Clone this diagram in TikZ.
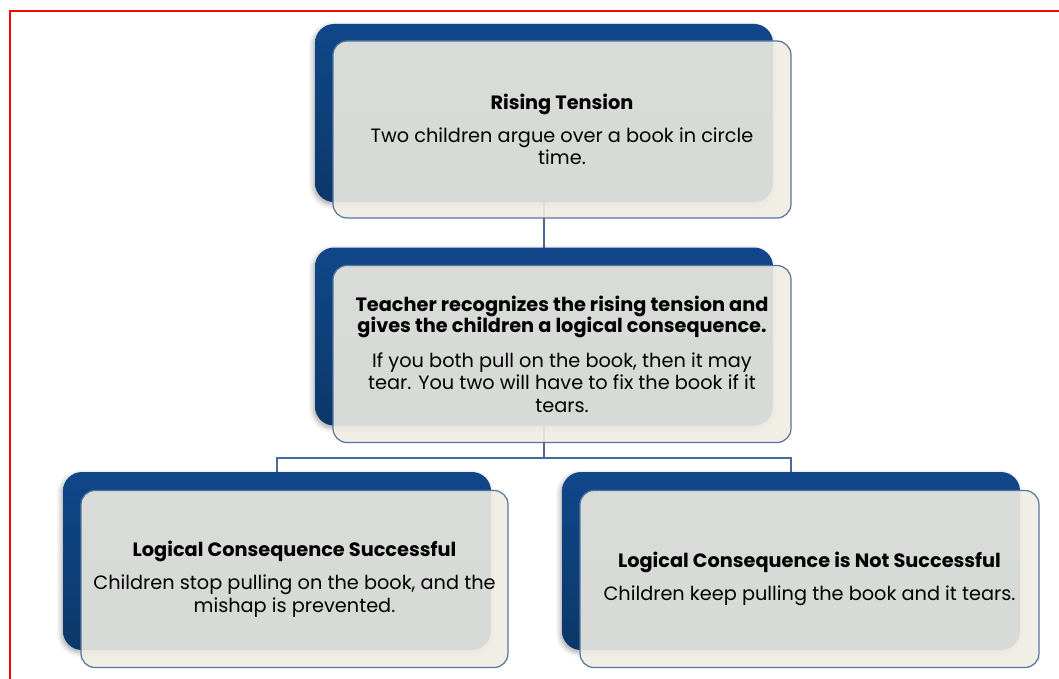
\documentclass[tikz,border=0pt]{standalone}
\usepackage{fontspec}
\setmainfont{Poppins}
\usetikzlibrary{shadows.blur}
\definecolor{bluetop}{HTML}{10478A}
\definecolor{bluebot}{HTML}{0B3868}
\definecolor{cream}{HTML}{EEECE2}
\definecolor{edgeblue}{HTML}{5373A0}
\definecolor{linkblue}{HTML}{4A6A98}
\definecolor{framered}{rgb}{1,0,0}
\pgfdeclarelayer{bg}
\pgfsetlayers{bg,main}
\tikzset{
  backbox/.style={rectangle, rounded corners=19pt, top color=bluetop, bottom color=bluebot,
    draw=none, minimum height=178pt, inner sep=0pt,
    blur shadow={shadow xshift=-1.5pt, shadow yshift=-2.5pt, shadow blur radius=5pt, shadow opacity=35}},
  frontbox/.style={rectangle, rounded corners=14pt, fill=cream, fill opacity=0.9, text opacity=1,
    draw=edgeblue, draw opacity=1, line width=1.2pt, minimum height=177pt, inner sep=0pt,
    align=center, text=black, font=\fontsize{19.3}{22.5}\selectfont},
  link/.style={draw=linkblue, line width=1.2pt},
  redframe/.style={draw=framered, line width=2pt},
}
\begin{document}
\begin{tikzpicture}[x=1pt,y=-1pt]
\useasboundingbox (0,0) rectangle (1059,679);
\coordinate (rTL) at (9.5,11.5);
\coordinate (rTR) at (1059,11.5);
\coordinate (rBL) at (9.5,679);

\node[backbox, minimum width=458pt] (d1) at (544,113) {};
\node[frontbox, minimum width=458pt] (f1) at (562,129.5)
  {\textbf{Rising Tension}\\[10.5pt]
   Two children argue over a book in circle\\
   time.};

\node[backbox, minimum width=458pt] (d2) at (544,336.5) {};
\node[frontbox, minimum width=458pt] (f2) at (562,354)
  {\textbf{Teacher recognizes the rising tension and}\\[-1.5pt]
   \textbf{gives the children a logical consequence.}\\[12.5pt]
   If you both pull on the book, then it may\\
   tear. You two will have to fix the book if it\\
   tears.};

\node[backbox, minimum width=428pt] (d3) at (277,561) {};
\node[frontbox, minimum width=427pt] (f3) at (294.5,579)
  {\textbf{Logical Consequence Successful}\\[11pt]
   Children stop pulling on the book, and the\\
   mishap is prevented.};

\node[backbox, minimum width=458pt] (d4) at (791,561) {};
\node[frontbox, minimum width=459pt] (f4) at (809.5,579)
  {\textbf{Logical Consequence is Not Successful}\\[11pt]
   Children keep pulling the book and it tears.};

\coordinate (bus) at (544,458);
\begin{pgfonlayer}{bg}
\draw[link] (d1.center) -- (d2.center);
\draw[link] (d2.center) -- (bus);
\draw[link] (d3.center) |- (bus) -| (d4.center);
\end{pgfonlayer}

\draw[redframe] (rBL) -- (rTL) -- (rTR);
\end{tikzpicture}
\end{document}
